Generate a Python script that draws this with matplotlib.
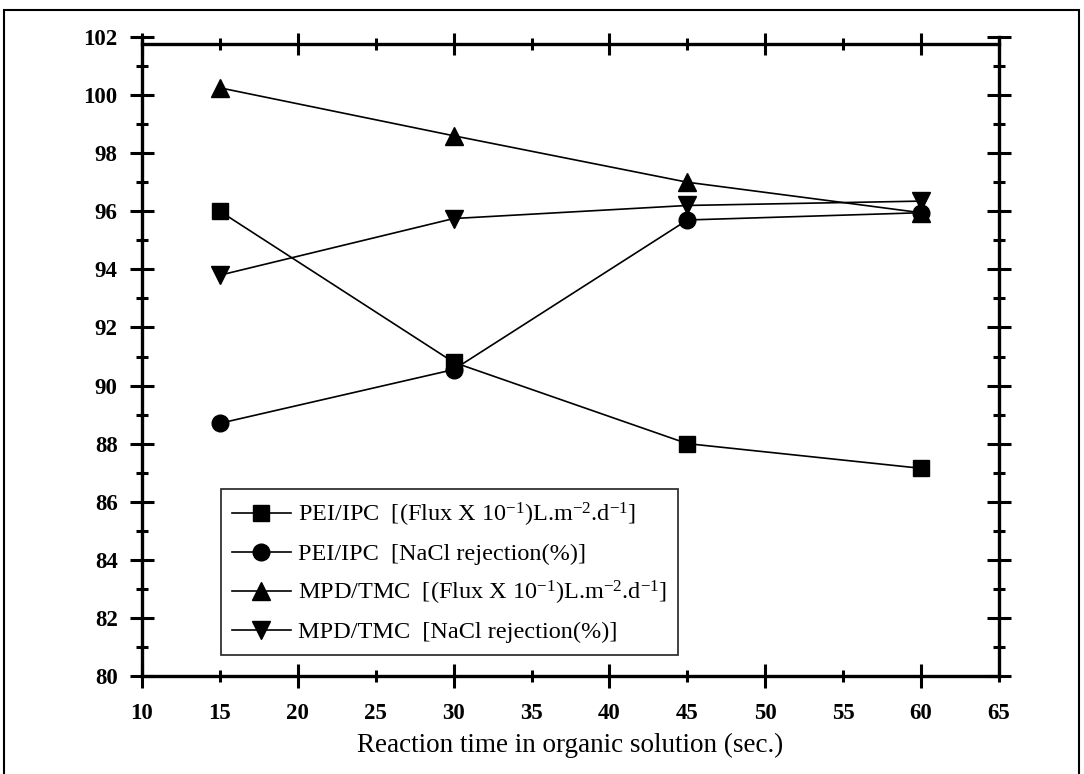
import matplotlib.pyplot as plt
from matplotlib.patches import Rectangle
from matplotlib.ticker import MultipleLocator, FormatStrFormatter

plt.rcParams['font.family'] = ['Liberation Serif', 'DejaVu Serif']
plt.rcParams['mathtext.fontset'] = 'custom'
plt.rcParams['mathtext.rm'] = 'Liberation Serif'
plt.rcParams['mathtext.it'] = 'Liberation Serif:italic'
plt.rcParams['mathtext.bf'] = 'Liberation Serif:bold'

# reaction time (sec.)
time = [15, 30, 45, 60]
pei_flux = [96.0, 90.8, 88.0, 87.15]
pei_rej = [88.7, 90.55, 95.7, 95.95]
mpd_flux = [100.25, 98.6, 97.0, 95.95]
mpd_rej = [93.8, 95.75, 96.2, 96.35]

flux_txt = '[(Flux X 10$^{-1}$)L.m$^{-2}$.d$^{-1}$]'
rej_txt = '[NaCl rejection(%)]'
labels = ['PEI/IPC  ' + flux_txt, 'PEI/IPC  ' + rej_txt,
          'MPD/TMC  ' + flux_txt, 'MPD/TMC  ' + rej_txt]

W, H = 1084, 774
fig = plt.figure(figsize=(W / 100, H / 100), dpi=100)
left, right, top, bottom = 142, 999, 37, 676
ax = fig.add_axes([left / W, 1 - bottom / H, (right - left) / W, (bottom - top) / H])

ms = 12
ax.plot(time, pei_flux, 's-', color='black', lw=1.2, ms=ms - 1, label=labels[0])
ax.plot(time, pei_rej, 'o-', color='black', lw=1.2, ms=ms, label=labels[1])
ax.plot(time, mpd_flux, '^-', color='black', lw=1.2, ms=ms + 1, label=labels[2])
ax.plot(time, mpd_rej, 'v-', color='black', lw=1.2, ms=ms + 1, label=labels[3])

ax.set_xlim(10, 65)
ax.set_ylim(80, 102)
ax.xaxis.set_major_locator(MultipleLocator(10))
ax.xaxis.set_minor_locator(MultipleLocator(5))
ax.xaxis.set_minor_formatter(FormatStrFormatter('%d'))
ax.yaxis.set_major_locator(MultipleLocator(2))
ax.yaxis.set_minor_locator(MultipleLocator(1))

ax.spines['top'].set_visible(False)
for s in ['left', 'right', 'bottom']:
    ax.spines[s].set_linewidth(2.4)
ax.tick_params(axis='both', which='both', direction='inout', width=2.2, labelsize=16.5)
ax.tick_params(axis='y', which='major', length=17, pad=9)
ax.tick_params(axis='y', which='minor', length=8)
ax.tick_params(axis='y', which='both', right=True)
ax.tick_params(axis='x', which='major', length=17, pad=11)
ax.tick_params(axis='x', which='minor', length=9, pad=15)
for t in (ax.get_xticklabels() + ax.get_xticklabels(minor=True)
          + ax.get_yticklabels()):
    t.set_fontweight('bold')

ax.set_xlabel('Reaction time in organic solution (sec.)', fontsize=19.5, labelpad=6)

# top frame line sits a little below the 102 tick
top_line = 44
axt = fig.add_axes([left / W, 1 - bottom / H, (right - left) / W, (bottom - top_line) / H])
axt.patch.set_visible(False)
for s in ['left', 'right', 'bottom']:
    axt.spines[s].set_visible(False)
axt.spines['top'].set_linewidth(2.4)
axt.set_xlim(10, 65)
axt.set_yticks([])
axt.xaxis.set_major_locator(MultipleLocator(10))
axt.xaxis.set_minor_locator(MultipleLocator(5))
axt.tick_params(axis='x', which='both', bottom=False, top=True, labelbottom=False,
                direction='inout', width=2.2)
axt.tick_params(axis='x', which='major', length=16)
axt.tick_params(axis='x', which='minor', length=9)

leg = ax.legend(loc='lower left', bbox_to_anchor=(0.092, 0.033), fontsize=17.5,
                frameon=True, fancybox=False, edgecolor='black', handlelength=2.4,
                handletextpad=0.3, borderpad=0.47, labelspacing=0.58, borderaxespad=0)
leg.get_frame().set_linewidth(1.3)

fig.patches.append(Rectangle((4 / W, -0.1), (1079 - 4) / W, 1.1 - 10 / H,
                             transform=fig.transFigure, fill=False,
                             edgecolor='black', lw=1.5))

fig.savefig('out.png', dpi=100)
